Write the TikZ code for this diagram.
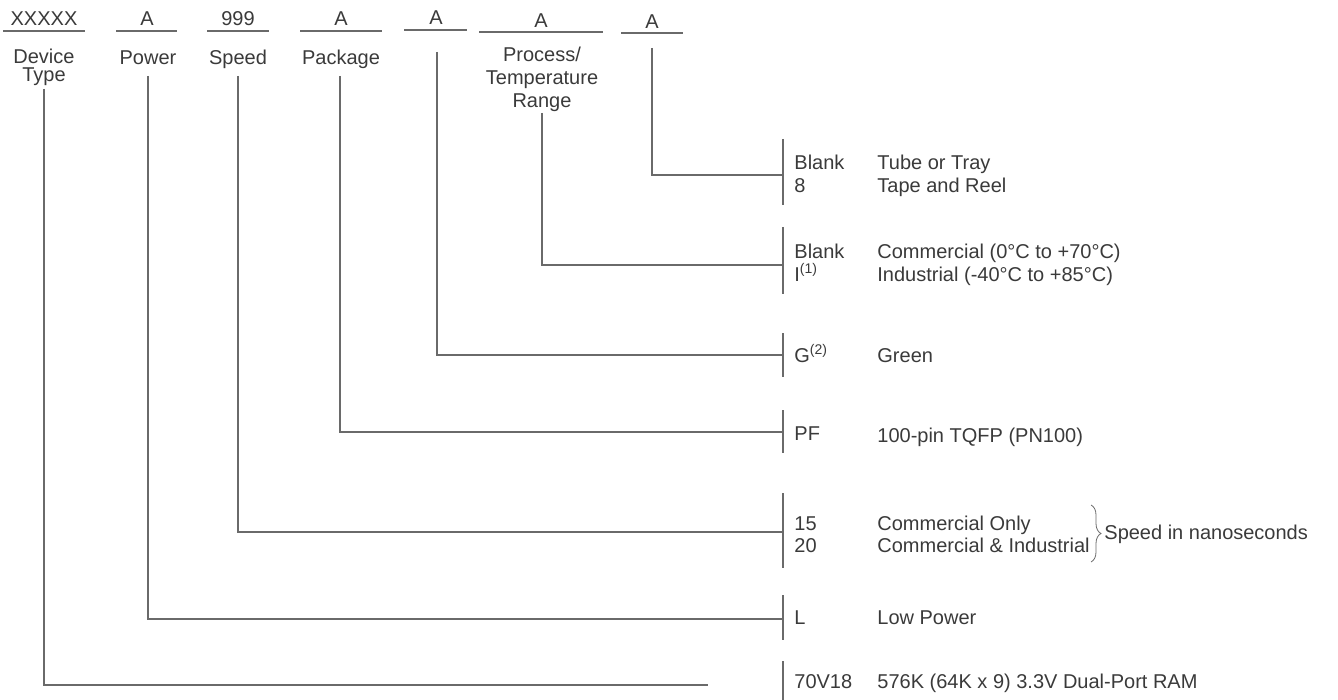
\documentclass[tikz,border=0pt]{standalone}
\usepackage{fontspec}
\setmainfont{Liberation Sans}
\usetikzlibrary{decorations.pathreplacing}
\definecolor{ink}{HTML}{3A3A3A}
\definecolor{rulegray}{HTML}{6A6A6A}
\tikzset{
  lbl/.style={inner sep=0pt, text=ink, font=\fontsize{10}{11.5}\selectfont},
  field/.style={lbl, anchor=base},
  code/.style={lbl, anchor=base west},
  wire/.style={draw=rulegray, line width=0.6pt},
}

\begin{document}
\begin{tikzpicture}[x=0.5pt, y=-0.5pt]
	\useasboundingbox (0,0) rectangle (1338,700);
	% order code fields
	\node[field] (cdev) at (44,26) {XXXXX};
	\node[field] (cpow) at (147,26) {A};
	\node[field] (cspd) at (238,26) {999};
	\node[field] (cpkg) at (341,26) {A};
	\node[field] (cgrn) at (436,25) {A};
	\node[field] (ctmp) at (541,28) {A};
	\node[field] (cpck) at (652,29) {A};
	\foreach \a/\b/\y in {3/85/31, 116/177/31, 207/269/31, 300/382/31, 404/467/30, 479/603/32, 621/683/33}
		\draw[wire] (\a,\y) -- (\b,\y);
	% field names
	\node[lbl, anchor=north, align=center, font=\fontsize{10}{9}\selectfont] (ldev) at (44,49) {Device\\Type};
	\node[lbl, anchor=north] (lpow) at (148,50) {Power};
	\node[lbl, anchor=north] (lspd) at (238,50) {Speed};
	\node[lbl, anchor=north] (lpkg) at (341,50) {Package};
	\node[lbl, anchor=north, align=center] (ltmp) at (542,47) {Process/\\Temperature\\Range};
	% where each field line starts and ends
	\coordinate (devtop) at (44,89);   \coordinate (devend) at (708,685);
	\coordinate (powtop) at (148,76);  \coordinate (powbar) at (783,619);
	\coordinate (spdtop) at (238,76);  \coordinate (spdbar) at (783,532);
	\coordinate (pkgtop) at (340,76);  \coordinate (pkgbar) at (783,432);
	\coordinate (grntop) at (437,52);  \coordinate (grnbar) at (783,355);
	\coordinate (tmptop) at (542,113); \coordinate (tmpbar) at (783,265);
	\coordinate (pcktop) at (652,48);  \coordinate (pckbar) at (783,175);
	\foreach \t/\e in {devtop/devend, powtop/powbar, spdtop/spdbar, pkgtop/pkgbar, grntop/grnbar, tmptop/tmpbar, pcktop/pckbar}
		\draw[wire] (\t) |- (\e);
	% option bars
	\foreach \a/\b in {139/205, 227/294, 333/377, 410/453, 493/568, 595/640, 661/700}
		\draw[wire] (783,\a) -- (783,\b);
	% options
	\node[code] (kblank) at (794,170) {Blank};
	\node[code] (keight) at (794,193) {8};
	\node[code] (dtube) at (877,170) {Tube or Tray};
	\node[code] (dtape) at (877,193) {Tape and Reel};
	\node[code] (kcom) at (794,258) {Blank};
	\node[code] (kind) at (794,281) {I\textsuperscript{(1)}};
	\node[code] (dcom) at (877,258) {Commercial (0°C to +70°C)};
	\node[code] (dind) at (877,281) {Industrial (-40°C to +85°C)};
	\node[code] (kgrn) at (794,362) {G\textsuperscript{(2)}};
	\node[code] (dgrn) at (877,362) {Green};
	\node[code] (kpf) at (794,440) {PF};
	\node[code] (dpf) at (877,442) {100-pin TQFP (PN100)};
	\node[code] (k15) at (794,530) {15};
	\node[code] (k20) at (794,552) {20};
	\node[code] (d15) at (877,530) {Commercial Only};
	\node[code] (d20) at (877,552) {Commercial \& Industrial};
	\draw[wire, line width=0.4pt, decorate, decoration={brace, amplitude=5pt, aspect=0.5}] (1091,505) -- (1091,562);
	\node[code] (dns) at (1104,539) {Speed in nanoseconds};
	\node[code] (klow) at (794,624) {L};
	\node[code] (dlow) at (877,624) {Low Power};
	\node[code] (k70) at (794,688) {70V18};
	\node[code] (d70) at (877,688) {576K (64K x 9) 3.3V Dual-Port RAM};
\end{tikzpicture}
\end{document}
